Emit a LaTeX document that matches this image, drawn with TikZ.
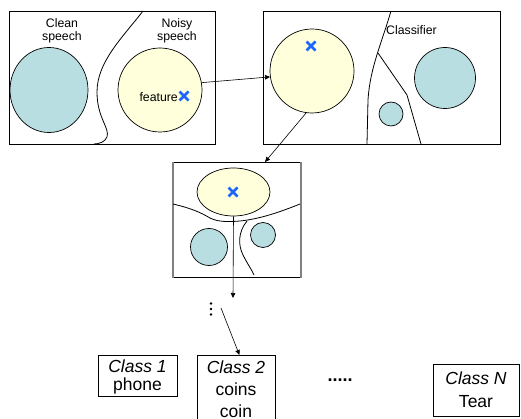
\documentclass[tikz,border=0pt]{standalone}
\usepackage{fontspec}
\setmainfont{Liberation Sans}
\usetikzlibrary{arrows.meta,calc,shapes.geometric}
\definecolor{teal1}{HTML}{B9DEE2}
\definecolor{yel1}{HTML}{FFFFDC}
\definecolor{xblue}{HTML}{1A66FF}
\tikzset{
  panel/.style={draw=black, line width=0.8pt, inner sep=0pt, anchor=north west},
  bluec/.style={circle, draw=black, line width=0.7pt, fill=teal1, inner sep=0pt},
  yelc/.style={circle, draw=black, line width=0.7pt, fill=yel1, inner sep=0pt},
  bound/.style={draw=black, line width=0.8pt},
  conn/.style={draw=black, line width=0.6pt, -{Triangle[length=5pt,width=4.5pt]}},
  lbl/.style={font=\fontsize{12.3}{13.5}\selectfont, align=center, inner sep=0pt},
  clsbox/.style={draw=black, line width=0.8pt, inner sep=0pt, anchor=north west},
  clstxt/.style={font=\fontsize{17.5}{19}\selectfont, inner sep=0pt},
  xmk/.style={draw=xblue, line width=2.6pt}
}
\newcommand{\xmark}[1]{%
  \draw[xmk] ($(#1)+(-4.5,-4.5)$) -- ($(#1)+(4.5,4.5)$);
  \draw[xmk] ($(#1)+(-4.5,4.5)$) -- ($(#1)+(4.5,-4.5)$);}
\begin{document}
\begin{tikzpicture}[x=1pt,y=-1pt]
\useasboundingbox (0,0) rectangle (521,419);
\clip (0,0) rectangle (521,419);
% Panel 1
\node[panel, minimum width=206pt, minimum height=133pt] (p1) at (9,11) {};
\node[bluec, ellipse, minimum width=78pt, minimum height=85pt] (clean) at (49,90) {};
\node[yelc, minimum size=84pt] (noisy) at (160,90) {};
\node[lbl] (tclean) at (62,31) {Clean\\speech};
\node[lbl] (tnoisy) at (177,31) {Noisy\\speech};
\node[lbl, anchor=east] (tfeat) at (178,97) {feature};
\coordinate (x1) at (184,96);
\xmark{x1}
\draw[bound] (143,11) .. controls (122,38) and (97,62) .. (97,92)
  .. controls (97,118) and (110,128) .. (107,137)
  .. controls (105,142) and (99,144) .. (94,144);
% Panel 2
\node[panel, minimum width=237pt, minimum height=133pt] (p2) at (263,11) {};
\node[yelc, minimum size=84pt] (big) at (312,71) {};
\coordinate (x2) at (311,46);
\xmark{x2}
\node[lbl, anchor=west] (tclass) at (386,30) {Classifier};
\draw[bound] (391,11) .. controls (381,45) and (370,68) .. (368,100) -- (367,144);
\draw[bound] (378,53) -- (407,95) -- (421,144);
\node[bluec, minimum size=24pt] (sm2) at (391,114) {};
\node[bluec, minimum size=61pt] (lg2) at (445,78) {};
% Panel 3
\node[panel, minimum width=127pt, minimum height=115pt] (p3) at (173,162) {};
\draw[gray, line width=1.6pt] (p3.north west) -- (p3.south west);
\draw[gray, line width=1.6pt] (p3.north east) -- (p3.south east);
\node[yelc, ellipse, minimum width=73pt, minimum height=48pt] (ell) at (233.5,192) {};
\coordinate (x3) at (233,192);
\xmark{x3}
\draw[bound] (173,204) .. controls (190,208) and (200,212) .. (210,218)
  .. controls (218,222) and (228,222) .. (240,221)
  .. controls (260,219) and (280,212) .. (300,204);
\draw[bound] (247,221) .. controls (238,232) and (238,245) .. (243,255) .. controls (248,265) and (252,270) .. (254,275);
\node[bluec, minimum size=37pt] (c3a) at (209,247) {};
\node[bluec, minimum size=25pt] (c3b) at (263,235) {};
% dots
\node[inner sep=0pt] (vdots) at (211,309) {%
  \tikz[x=1pt,y=1pt]{\fill (0,0) circle (1.4pt); \fill (0,-5.5) circle (1.4pt); \fill (0,-11) circle (1.4pt);}};
\coordinate (down) at (233,298);
\coordinate (tail) at (221,308);
% classes
\node[clsbox, minimum width=79pt, minimum height=41pt] (c1) at (98,355) {};
\node[clstxt] (c1a) at (137.5,366) {\itshape Class 1};
\node[clstxt] (c1b) at (137.5,386) {phone};
\node[clsbox, minimum width=78pt, minimum height=80pt] (c2) at (197,355) {};
\node[clstxt] (c2a) at (236,367) {\itshape Class 2};
\node[clstxt] (c2b) at (236,389) {coins};
\node[clstxt] (c2c) at (236,411) {coin};
\node[clstxt, font=\fontsize{18}{19}\selectfont\bfseries] (ell5) at (340,380) {.....};
\node[clsbox, minimum width=86pt, minimum height=52pt] (cN) at (433,364) {};
\node[clstxt] (cNa) at (476,378) {\itshape Class N};
\node[clstxt] (cNb) at (476,402) {Tear};
% connectors
\draw[conn] (noisy.10) -- (big.188);
\draw[conn] (big.262) -- ($(p3.north west)!0.72!(p3.north east)$);
\draw[conn] (ell.south) -- (down);
\draw[conn] (tail) -- ($(c2.north)+(3,0)$);
\end{tikzpicture}
\end{document}
